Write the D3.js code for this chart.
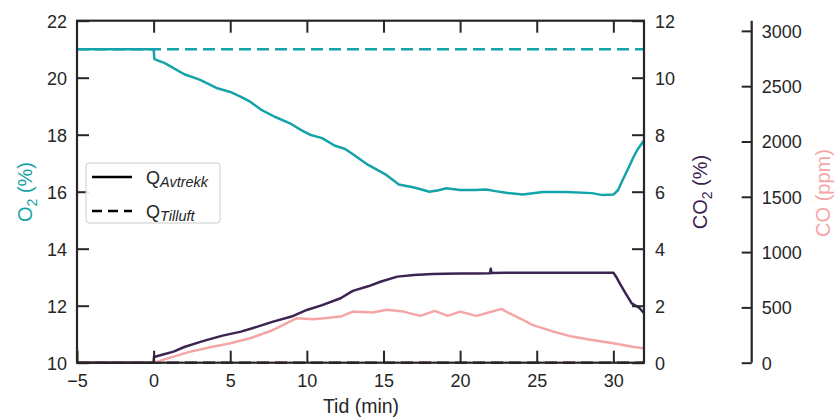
<!DOCTYPE html>
<html><head><meta charset="utf-8">
<script src="https://cdn.jsdelivr.net/npm/d3@7"></script>
<style>body{margin:0;background:#fff}svg{display:block}text{font-family:"Liberation Sans",Arial,sans-serif}</style>
</head><body><svg id="c" width="835" height="419"></svg>
<script>
// ---- data ----
const xTicks = [-5, 0, 5, 10, 15, 20, 25, 30];
const o2Ticks = [10, 12, 14, 16, 18, 20, 22];
const co2Ticks = [0, 2, 4, 6, 8, 10, 12];
const coTicks = [0, 500, 1000, 1500, 2000, 2500, 3000];

const o2Time = [-5, 0, 0.05, 0.3, 0.7, 1.1, 2, 3, 4.1, 5, 5.7, 6.3, 7, 7.9, 8.9, 9.6, 10.2, 11, 11.8, 12.5, 13.1, 14, 15.1, 16, 17, 18, 18.6, 19.1, 20, 21, 21.7, 22.3, 23, 24.1, 25.4, 26.9, 28.6, 29.3, 30.0, 30.3, 30.6, 31.0, 31.3, 31.6, 32];
const o2Values = [21, 21, 20.65, 20.6, 20.52, 20.4, 20.12, 19.93, 19.64, 19.5, 19.33, 19.16, 18.88, 18.63, 18.4, 18.17, 18.0, 17.88, 17.62, 17.5, 17.28, 16.94, 16.62, 16.25, 16.15, 16.0, 16.05, 16.12, 16.06, 16.06, 16.08, 16.02, 15.96, 15.9, 15.99, 15.99, 15.95, 15.88, 15.9, 16.05, 16.4, 16.85, 17.2, 17.5, 17.8];
const o2Supply = [21, 21];
const supplyTime = [-5, 32];

const co2Time = [-5, 0, 0.02, 0.5, 1.3, 2, 3, 3.5, 4.5, 5.7, 6.5, 7.8, 9, 10, 11, 12.2, 13, 14, 14.8, 15.9, 17, 18.2, 19, 20, 21, 21.95, 22.0, 22.05, 23, 24, 25.2, 26, 27, 28, 29, 30.0, 30.2, 30.4, 30.8, 31.2, 31.7, 32];
const co2Values = [0, 0, 0.2, 0.27, 0.39, 0.55, 0.72, 0.8, 0.95, 1.09, 1.22, 1.44, 1.62, 1.85, 2.02, 2.26, 2.52, 2.68, 2.84, 3.02, 3.08, 3.11, 3.12, 3.13, 3.13, 3.14, 3.3, 3.15, 3.16, 3.16, 3.16, 3.16, 3.16, 3.16, 3.16, 3.16, 3.0, 2.8, 2.43, 2.08, 1.92, 1.74];
const co2Supply = [0, 0];

const coTime = [-5, 0, 0.24, 1.2, 2.4, 3.7, 5.0, 6.3, 7.8, 9.35, 10.4, 11.3, 12.2, 13.0, 14.3, 15.2, 16.3, 17.4, 18.35, 19.2, 20.0, 21.06, 21.7, 22.7, 23.0, 24.0, 24.7, 26.0, 27.3, 28.6, 30.0, 31.25, 32];
const coValues = [0, 0, 10, 50, 100, 140, 176, 221, 296, 402, 393, 405, 417, 462, 453, 478, 462, 423, 468, 423, 462, 423, 447, 487, 462, 395, 342, 285, 236, 205, 176, 145, 130];
const coSupply = [0, 0];

// ---- layout ----
const L = 77, R = 644, T = 20.7, B = 362.7, coX = 751.7;
const col = {o2: "#13a3a8", co2: "#3c2352", co: "#f6a5a7", ink: "#262626"};
const svg = d3.select("#c");
const x = d3.scaleLinear().domain([-5, 32]).range([L, R]);
const yO2 = d3.scaleLinear().domain([10, 22]).range([B, T]);
const yCO2 = d3.scaleLinear().domain([0, 12]).range([B, T]);
const yCO = d3.scaleLinear().domain([0, 3092]).range([B, T]);

function line(ts, vs, ys) {
  return d3.line().x((d, i) => x(ts[i])).y(d => ys(d))(vs);
}
const g = svg.append("g");
g.append("path").attr("d", line(supplyTime, coSupply, yCO)).attr("fill", "none").attr("stroke", col.co).attr("stroke-width", 2.5).attr("stroke-dasharray", "12,6");
g.append("path").attr("d", line(supplyTime, co2Supply, yCO2)).attr("fill", "none").attr("stroke", col.co2).attr("stroke-width", 2.5).attr("stroke-dasharray", "12,6");
g.append("path").attr("d", line(coTime, coValues, yCO)).attr("fill", "none").attr("stroke", col.co).attr("stroke-width", 2.5).attr("stroke-linejoin", "round");
g.append("path").attr("d", line(co2Time, co2Values, yCO2)).attr("fill", "none").attr("stroke", col.co2).attr("stroke-width", 2.5).attr("stroke-linejoin", "round");
g.append("path").attr("d", line(o2Time, o2Values, yO2)).attr("fill", "none").attr("stroke", col.o2).attr("stroke-width", 2.5).attr("stroke-linejoin", "round");
g.append("path").attr("d", line(supplyTime, o2Supply, yO2)).attr("fill", "none").attr("stroke", col.o2).attr("stroke-width", 2.5).attr("stroke-dasharray", "12,6");

// axes
const tk = 12;
function style(sel) {
  sel.selectAll(".domain").remove();
  sel.selectAll(".tick line").attr("stroke", col.ink).attr("stroke-width", 2);
  sel.selectAll(".tick text").attr("fill", col.ink).style("font-size", "18px").style("font-family", "'Liberation Sans',Arial,sans-serif");
}
const fmt = d => d < 0 ? "\u2212" + Math.abs(d) : String(d);
const ax = svg.append("g").attr("transform", `translate(0,${B})`).call(d3.axisBottom(x).tickValues(xTicks).tickFormat(fmt).tickSizeInner(-tk).tickSizeOuter(0)).call(style);
ax.selectAll(".tick text").attr("y", 12).attr("dy", "0.71em");
svg.append("g").attr("transform", `translate(0,${T})`).call(d3.axisTop(x).tickValues(xTicks.slice(1)).tickFormat("").tickSizeInner(-tk).tickSizeOuter(0)).call(style);
const ay = svg.append("g").attr("transform", `translate(${L},0)`).call(d3.axisLeft(yO2).tickValues(o2Ticks).tickFormat(fmt).tickSizeInner(-tk).tickSizeOuter(0)).call(style);
ay.selectAll(".tick text").attr("x", -10).attr("dy", "0.35em");
const ay2 = svg.append("g").attr("transform", `translate(${R},0)`).call(d3.axisRight(yCO2).tickValues(co2Ticks).tickSizeInner(-tk).tickSizeOuter(0)).call(style);
ay2.selectAll(".tick text").attr("x", 11).attr("dy", "0.35em");
const coAx = svg.append("g").attr("transform", `translate(${coX},0)`).call(d3.axisRight(yCO).tickValues(coTicks).tickFormat(d3.format("d")).tickSizeInner(0).tickSizeOuter(0)).call(style);
coAx.selectAll(".tick text").attr("x", 10).attr("dy", "0.35em");
coAx.selectAll(".tick").append("line").attr("x1", -10).attr("x2", 0).attr("stroke", col.ink).attr("stroke-width", 2);
// spines
svg.append("rect").attr("x", L).attr("y", T).attr("width", R - L).attr("height", B - T).attr("fill", "none").attr("stroke", col.ink).attr("stroke-width", 2.2);
svg.append("line").attr("x1", coX).attr("x2", coX).attr("y1", T).attr("y2", B).attr("stroke", col.ink).attr("stroke-width", 2.2);

// axis labels
function sublabel(xp, yp, main, sub, rest, color) {
  const t = svg.append("text").attr("transform", `translate(${xp},${yp}) rotate(-90)`).attr("text-anchor", "middle").attr("fill", color).style("font-size", "20px");
  t.append("tspan").text(main);
  if (sub) t.append("tspan").text(sub).style("font-size", "14px").attr("dy", 5);
  if (rest) t.append("tspan").text(rest).attr("dy", sub ? -5 : 0);
}
sublabel(31.5, 192, "O", "2", " (%)", col.o2);
sublabel(707, 192, "CO", "2", " (%)", col.co2);
sublabel(830, 193, "CO (ppm)", null, "", col.co);
svg.append("text").attr("x", 361).attr("y", 413).attr("text-anchor", "middle").attr("fill", col.ink).style("font-size", "19.5px").text("Tid (min)");

// legend
const lg = svg.append("g");
lg.append("rect").attr("x", 86).attr("y", 163).attr("width", 134).attr("height", 60).attr("rx", 3).attr("fill", "rgba(255,255,255,0.85)").attr("stroke", "#cccccc").attr("stroke-width", 1);
const legendItems = [{main: "Q", sub: "Avtrekk", dash: null}, {main: "Q", sub: "Tilluft", dash: "10,6"}];
legendItems.forEach((it, i) => {
  const yy = 177 + i * 34;
  lg.append("line").attr("x1", 92).attr("x2", 132).attr("y1", yy).attr("y2", yy).attr("stroke", "#000").attr("stroke-width", 2.5).attr("stroke-dasharray", it.dash);
  const t = lg.append("text").attr("x", 146).attr("y", yy + 7).attr("fill", col.ink).style("font-size", "18px");
  t.append("tspan").text(it.main);
  t.append("tspan").text(it.sub).style("font-size", "14.5px").style("font-style", "italic").attr("dy", 3);
});
</script></body></html>
